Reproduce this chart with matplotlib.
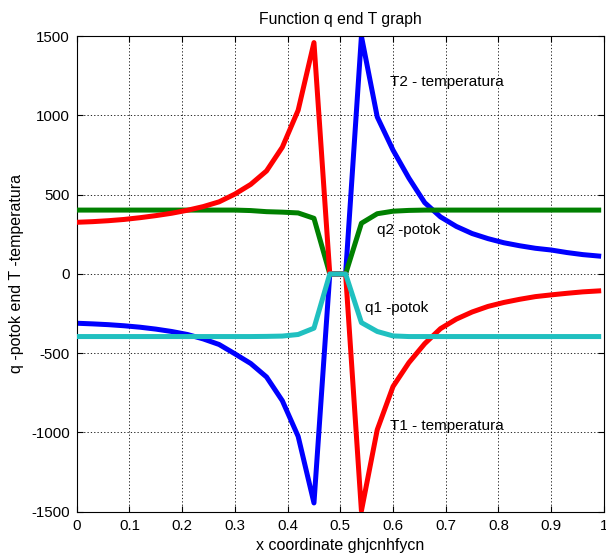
import numpy as np
import matplotlib
matplotlib.use("Agg")
import matplotlib.pyplot as plt

plt.rcParams['font.family'] = ['Liberation Sans', 'DejaVu Sans']
plt.rcParams['axes.unicode_minus'] = False

# coordinate grid (step 0.03)
x_coord = [0.00, 0.03, 0.06, 0.09, 0.12, 0.15, 0.18, 0.21, 0.24, 0.27,
           0.30, 0.33, 0.36, 0.39, 0.42, 0.45, 0.48, 0.51, 0.54, 0.57,
           0.60, 0.63, 0.66, 0.69, 0.72, 0.75, 0.78, 0.81, 0.84, 0.87,
           0.90, 0.93, 0.96, 0.99]

# T1 - temperatura (red)
t1_temp = [326, 330, 336, 344, 355, 368, 383, 402, 425, 455,
           504, 565, 650, 800, 1033, 1460, 0, 0, -1495, -983,
           -710, -560, -440, -345, -285, -240, -205, -180, -160, -143,
           -132, -122, -113, -107]

# T2 - temperatura (blue)
t2_temp = [-311, -315, -320, -327, -336, -348, -363, -382, -410, -445,
           -504, -565, -650, -800, -1025, -1445, 0, 0, 1500, 991,
           781, 605, 450, 360, 300, 255, 223, 197, 178, 162,
           151, 135, 122, 113]

# q2 -potok (green)
q2_flux = [403, 403, 403, 403, 403, 403, 403, 403, 403, 403,
           403, 400, 393, 390, 385, 351, 0, 0, 320, 380,
           396, 401, 403, 403, 403, 403, 403, 403, 403, 403,
           403, 403, 403, 403]

# q1 -potok (cyan)
q1_flux = [-395, -395, -395, -395, -395, -395, -395, -395, -395, -395,
           -395, -395, -394, -392, -382, -342, 0, 0, -307, -363,
           -391, -395, -395, -395, -395, -395, -395, -395, -395, -395,
           -395, -395, -395, -395]

fig = plt.figure(figsize=(6.06, 5.60), dpi=100)
ax = fig.add_axes([0.1266, 0.0863, 0.870, 0.849])

lw = 3.6
ax.plot(x_coord, t2_temp, color='#0000ff', lw=lw, zorder=2)
ax.plot(x_coord, q2_flux, color='#008000', lw=lw, zorder=3)
ax.plot(x_coord, t1_temp, color='#ff0000', lw=lw, zorder=4)
ax.plot(x_coord, q1_flux, color='#20c0c0', lw=lw, zorder=5)

ax.set_xlim(0, 1)
ax.set_ylim(-1500, 1500)
ax.set_xticks(np.arange(0, 1.01, 0.1))
ax.set_xticklabels(['0', '0.1', '0.2', '0.3', '0.4', '0.5', '0.6', '0.7', '0.8', '0.9', '1'])
ax.set_yticks(np.arange(-1500, 1501, 500))
ax.tick_params(direction='in', top=True, right=True, length=4, width=0.8,
               labelsize=10.8, pad=5)
ax.grid(True, linestyle=(0, (1.5, 2.5)), color='black', linewidth=0.6)
for sp in ax.spines.values():
    sp.set_linewidth(0.8)

ax.text(0.594, 1212, "T2 - temperatura", fontsize=11, va='center')
ax.text(0.569, 277, "q2 -potok", fontsize=11, va='center')
ax.text(0.547, -216, "q1 -potok", fontsize=11, va='center')
ax.text(0.594, -962, "T1 - temperatura", fontsize=11, va='center')

ax.set_title("Function q end T graph", fontsize=11.3, pad=9)
ax.set_xlabel("x coordinate ghjcnhfycn", fontsize=11.5, labelpad=4)
ax.set_ylabel("q -potok end T -temperatura", fontsize=11.5, labelpad=5)

fig.savefig("out.png", dpi=100)
